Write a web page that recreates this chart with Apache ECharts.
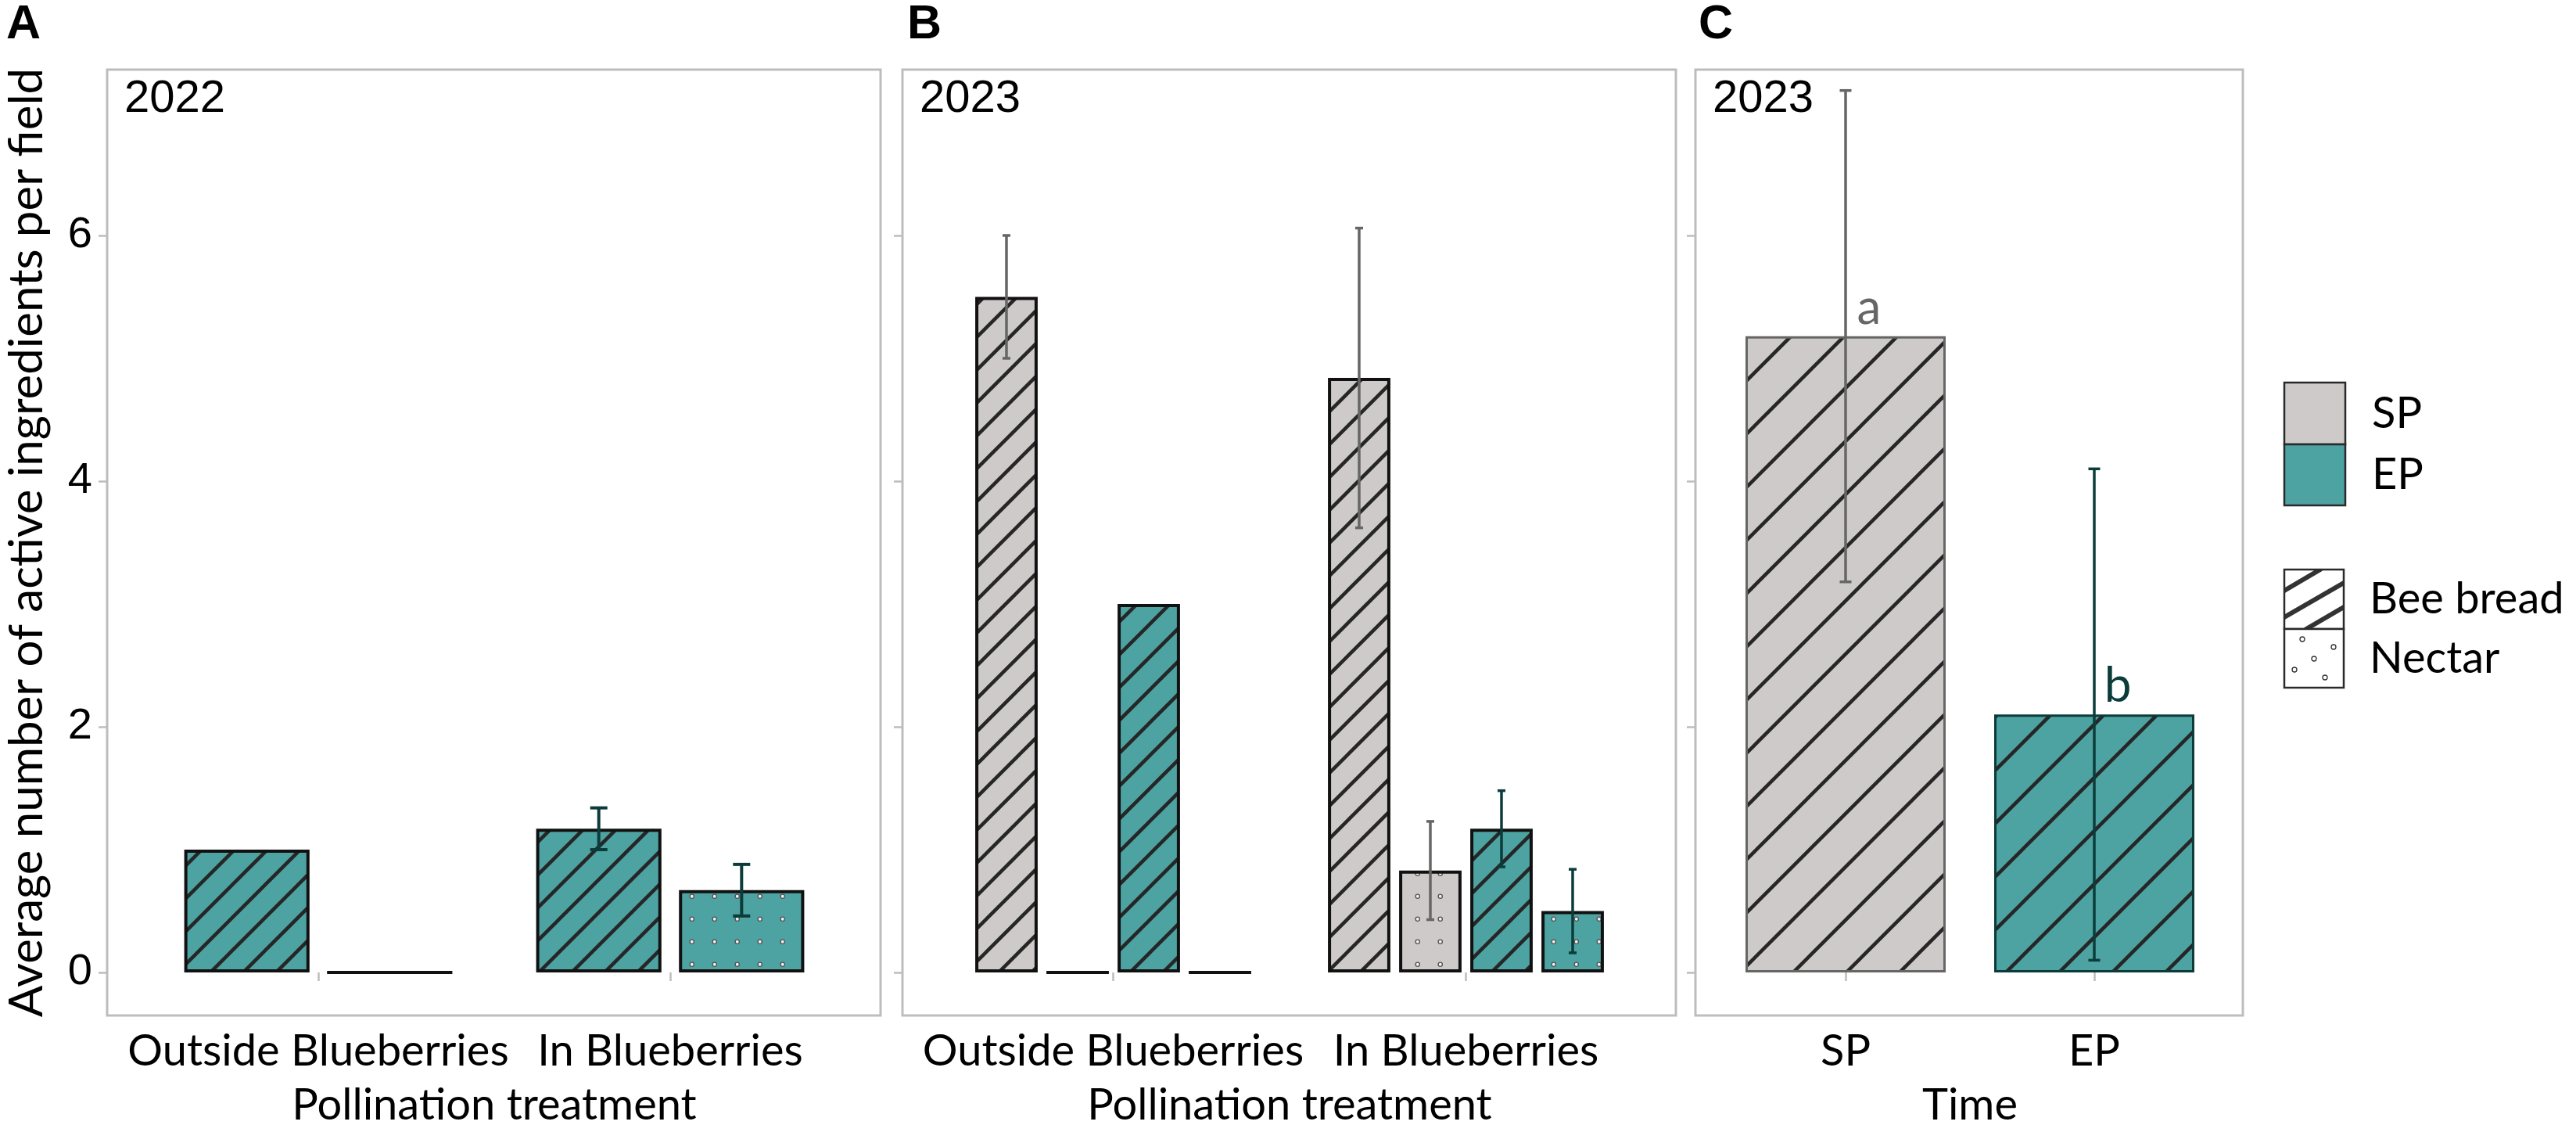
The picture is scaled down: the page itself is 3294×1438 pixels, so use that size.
<!DOCTYPE html>
<html>
<head>
<meta charset="utf-8">
<script src="https://cdn.jsdelivr.net/npm/echarts@6/dist/echarts.min.js"></script>
<style>
html, body { margin: 0; padding: 0; background: #fff; }
#main { width: 3294px; height: 1438px; }
</style>
</head>
<body>
<div id="main"></div>
<script>
// values
var treatments = ['Outside Blueberries', 'In Blueberries'];
var times = ['SP', 'EP'];
var yTicks = [0, 2, 4, 6];

// A - 2022, only EP sampled
var epBee2022 = [1.0, 1.17];
var epBee2022Se = [null, 0.17];
var epNectar2022 = [0, 0.67];
var epNectar2022Se = [null, 0.21];

// B - 2023
var spBee2023 = [5.5, 4.84];
var spBee2023Se = [0.5, 1.22];
var spNectar2023 = [0, 0.83];
var spNectar2023Se = [null, 0.40];
var epBee2023 = [3.0, 1.17];
var epBee2023Se = [null, 0.31];
var epNectar2023 = [0, 0.5];
var epNectar2023Se = [null, 0.34];

// C - 2023 by time
var timeMeans = [5.18, 2.1];
var timeSe = [2.0, 2.0];
var timeLetters = ['a', 'b'];

var SP_FILL = '#CDCAC9', EP_FILL = '#4DA2A2';
var HATCH = '#262626', FRAME = '#BDBDBD';
var SP_ERR = '#666666', EP_ERR = '#0B3C3A';
var LATO = 'Lato', ARIAL = 'Liberation Sans';

// stripe tile (45 deg, up to the right)
function hatch(bg, step, lw) {
	var c = document.createElement('canvas');
	c.width = step; c.height = step;
	var g = c.getContext('2d');
	g.fillStyle = bg;
	g.fillRect(0, 0, step, step);
	g.strokeStyle = HATCH;
	g.lineWidth = lw;
	g.beginPath();
	[0, step, 2 * step].forEach(function (k) {
		g.moveTo(k + lw, -lw);
		g.lineTo(-lw, k + lw);
	});
	g.stroke();
	return { image: c, repeat: 'repeat' };
}
// small open circle tile
function dots(bg, step) {
	var c = document.createElement('canvas');
	c.width = step; c.height = step;
	var g = c.getContext('2d');
	g.fillStyle = bg;
	g.fillRect(0, 0, step, step);
	g.beginPath();
	g.arc(step / 2, step / 2, 2.6, 0, Math.PI * 2);
	g.fillStyle = '#f2f2f2';
	g.fill();
	g.strokeStyle = '#555';
	g.lineWidth = 1.4;
	g.stroke();
	return { image: c, repeat: 'repeat' };
}

// legend key swatches
function legendHatch(w, h) {
	var c = document.createElement('canvas');
	c.width = w; c.height = h;
	var g = c.getContext('2d');
	g.fillStyle = '#fff'; g.fillRect(0, 0, w, h);
	g.strokeStyle = '#333'; g.lineWidth = 6; g.lineCap = 'round';
	g.beginPath();
	g.moveTo(0, 27); g.lineTo(46, 0);
	g.moveTo(0, 61); g.lineTo(76, 17);
	g.moveTo(28, 76); g.lineTo(76, 48);
	g.stroke();
	return c;
}
function legendDots(w, h) {
	var c = document.createElement('canvas');
	c.width = w; c.height = h;
	var g = c.getContext('2d');
	g.fillStyle = '#fff'; g.fillRect(0, 0, w, h);
	g.strokeStyle = '#333'; g.lineWidth = 1.3;
	[[23, 13], [63, 23], [38, 38], [13, 52], [52, 62]].forEach(function (p) {
		g.beginPath();
		g.arc(p[0], p[1], 3, 0, Math.PI * 2);
		g.stroke();
	});
	return c;
}

function errorData(means, ses, slot) {
	var out = [];
	means.forEach(function (m, i) {
		if (ses[i] != null) out.push([i, m - ses[i], m + ses[i], slot]);
	});
	return out;
}

function errorSeries(gi, data, nSlots, slotFrac, capW, color, lw) {
	return {
		type: 'custom',
		xAxisIndex: gi,
		yAxisIndex: gi,
		data: data,
		z: 5,
		encode: { x: 0, y: [1, 2] },
		renderItem: function (params, api) {
			var band = api.size([1, 0])[0];
			var cx = api.coord([api.value(0), 0])[0] + (api.value(3) - (nSlots - 1) / 2) * band * slotFrac;
			var yHi = api.coord([api.value(0), api.value(2)])[1];
			var yLo = api.coord([api.value(0), api.value(1)])[1];
			var st = { stroke: color, lineWidth: lw };
			return {
				type: 'group',
				children: [
					{ type: 'line', shape: { x1: cx, y1: yHi, x2: cx, y2: yLo }, style: st },
					{ type: 'line', shape: { x1: cx - capW / 2, y1: yHi, x2: cx + capW / 2, y2: yHi }, style: st },
					{ type: 'line', shape: { x1: cx - capW / 2, y1: yLo, x2: cx + capW / 2, y2: yLo }, style: st }
				]
			};
		}
	};
}

function yAxisFor(gi, offset, withLabels) {
	var ax = {
		type: 'value', gridIndex: gi, min: -0.35, max: 7.35, offset: offset,
		axisLine: { show: false },
		splitLine: { show: false },
		axisTick: { show: true, length: 11, customValues: yTicks, lineStyle: { color: FRAME, width: 2.5 } },
		axisLabel: { show: withLabels, customValues: yTicks, margin: 19, fontSize: 56, fontFamily: ARIAL, color: '#000' }
	};
	if (withLabels) {
		ax.name = 'Average number of active ingredients per field';
		ax.nameLocation = 'middle';
		ax.nameGap = 72;
		ax.nameTextStyle = { fontSize: 60, fontFamily: LATO, color: '#000' };
	}
	return ax;
}

function xAxisFor(gi, cats, title) {
	return {
		type: 'category', gridIndex: gi, data: cats,
		axisLine: { show: false },
		axisTick: { show: true, alignWithLabel: true, length: 11, lineStyle: { color: FRAME, width: 2.5 } },
		axisLabel: { interval: 0, margin: 18, fontSize: 56, fontFamily: LATO, color: '#000' },
		name: title, nameLocation: 'middle', nameGap: 87,
		nameTextStyle: { fontSize: 56, fontFamily: LATO, color: '#000' }
	};
}

var barBorder = { borderColor: '#111', borderWidth: 4 };
function barStyle(fill) {
	return { color: fill, borderColor: barBorder.borderColor, borderWidth: barBorder.borderWidth };
}

var frames = [
	{ x: 137, w: 989, tag: 'A', tagX: 8, year: '2022' },
	{ x: 1154, w: 989, tag: 'B', tagX: 1160, year: '2023' },
	{ x: 2168, w: 700, tag: 'C', tagX: 2172, year: '2023' }
];
var graphics = [];
frames.forEach(function (f) {
	graphics.push({ type: 'rect', z: 1, shape: { x: f.x, y: 89, width: f.w, height: 1209 },
		style: { fill: 'none', stroke: FRAME, lineWidth: 3 } });
	graphics.push({ type: 'text', x: f.tagX, y: 2,
		style: { text: f.tag, fontSize: 61, fontWeight: 'bold', fontFamily: ARIAL, fill: '#000', verticalAlign: 'top' } });
	graphics.push({ type: 'text', x: f.x + 22, y: 98,
		style: { text: f.year, fontSize: 58, fontFamily: ARIAL, fill: '#000', verticalAlign: 'top' } });
});

// legends
var legFill = [['SP', SP_FILL, 489, 79], ['EP', EP_FILL, 568, 78]];
legFill.forEach(function (l) {
	graphics.push({ type: 'rect', shape: { x: 2921, y: l[2], width: 78, height: l[3] },
		style: { fill: l[1], stroke: '#2a2a2a', lineWidth: 2.5 } });
	graphics.push({ type: 'text', x: 3033, y: l[2] + l[3] / 2,
		style: { text: l[0], fontSize: 56, fontFamily: LATO, fill: '#000', verticalAlign: 'middle' } });
});
var legPat = [['Bee bread', legendHatch(76, 76), 728, 76], ['Nectar', legendDots(76, 75), 804, 75]];
legPat.forEach(function (l) {
	graphics.push({ type: 'image', style: { image: l[1], x: 2921, y: l[2], width: 76, height: l[3] } });
	graphics.push({ type: 'rect', shape: { x: 2921, y: l[2], width: 76, height: l[3] },
		style: { fill: 'none', stroke: '#2a2a2a', lineWidth: 2.5 } });
	graphics.push({ type: 'text', x: 3030, y: l[2] + l[3] / 2,
		style: { text: l[0], fontSize: 56, fontFamily: LATO, fill: '#000', verticalAlign: 'middle' } });
});

var timeFills = [hatch(SP_FILL, 68, 4.5), hatch(EP_FILL, 68, 4.5)];
var timeBorders = [SP_ERR, EP_ERR];
var timeData = timeMeans.map(function (v, i) {
	return {
		value: v,
		itemStyle: { color: timeFills[i], borderColor: timeBorders[i], borderWidth: 3 },
		label: { color: timeBorders[i] }
	};
});

var myChart = echarts.init(document.getElementById('main'));
var option = {
	backgroundColor: '#fff',
	animation: false,
	grid: [
		{ left: 182, top: 89, width: 900, height: 1209, containLabel: false, outerBoundsMode: 'none' },
		{ left: 1198, top: 89, width: 902, height: 1209, containLabel: false, outerBoundsMode: 'none' },
		{ left: 2201, top: 89, width: 636, height: 1209, containLabel: false, outerBoundsMode: 'none' }
	],
	xAxis: [
		xAxisFor(0, treatments, 'Pollination treatment'),
		xAxisFor(1, treatments, 'Pollination treatment'),
		xAxisFor(2, times, 'Time')
	],
	yAxis: [yAxisFor(0, 45, true), yAxisFor(1, 44, false), yAxisFor(2, 33, false)],
	graphic: graphics,
	series: [
		// A
		{ name: 'EP Bee bread 2022', type: 'bar', xAxisIndex: 0, yAxisIndex: 0, data: epBee2022,
			barWidth: '35.6%', barGap: '14%', itemStyle: barStyle(hatch(EP_FILL, 42, 4.5)) },
		{ name: 'EP Nectar 2022', type: 'bar', xAxisIndex: 0, yAxisIndex: 0, data: epNectar2022,
			barWidth: '35.6%', barGap: '14%', itemStyle: barStyle(dots(EP_FILL, 29.5)) },
		errorSeries(0, errorData(epBee2022, epBee2022Se, 0).concat(errorData(epNectar2022, epNectar2022Se, 1)),
			2, 0.356 * 1.14, 22, EP_ERR, 4),
		// B
		{ name: 'SP Bee bread 2023', type: 'bar', xAxisIndex: 1, yAxisIndex: 1, data: spBee2023,
			barWidth: '17.7%', barGap: '14%', itemStyle: barStyle(hatch(SP_FILL, 42, 4.5)) },
		{ name: 'SP Nectar 2023', type: 'bar', xAxisIndex: 1, yAxisIndex: 1, data: spNectar2023,
			barWidth: '17.7%', barGap: '14%', itemStyle: barStyle(dots(SP_FILL, 29.5)) },
		{ name: 'EP Bee bread 2023', type: 'bar', xAxisIndex: 1, yAxisIndex: 1, data: epBee2023,
			barWidth: '17.7%', barGap: '14%', itemStyle: barStyle(hatch(EP_FILL, 42, 4.5)) },
		{ name: 'EP Nectar 2023', type: 'bar', xAxisIndex: 1, yAxisIndex: 1, data: epNectar2023,
			barWidth: '17.7%', barGap: '14%', itemStyle: barStyle(dots(EP_FILL, 29.5)) },
		errorSeries(1, errorData(spBee2023, spBee2023Se, 0).concat(errorData(spNectar2023, spNectar2023Se, 1)),
			4, 0.177 * 1.14, 10, SP_ERR, 3.5),
		errorSeries(1, errorData(epBee2023, epBee2023Se, 2).concat(errorData(epNectar2023, epNectar2023Se, 3)),
			4, 0.177 * 1.14, 10, EP_ERR, 3.5),
		// C
		{ name: 'Bee bread by time', type: 'bar', xAxisIndex: 2, yAxisIndex: 2, data: timeData,
			barWidth: '80.5%',
			label: { show: true, position: 'top', distance: 5, offset: [30, 0], fontSize: 62, fontFamily: LATO,
				formatter: function (p) { return timeLetters[p.dataIndex]; } } },
		errorSeries(2, errorData([timeMeans[0]], [timeSe[0]], 0), 1, 0, 15, SP_ERR, 3.5),
		errorSeries(2, errorData([null, timeMeans[1]], [null, timeSe[1]], 0), 1, 0, 15, EP_ERR, 3.5)
	]
};
myChart.setOption(option);
</script>
</body>
</html>
